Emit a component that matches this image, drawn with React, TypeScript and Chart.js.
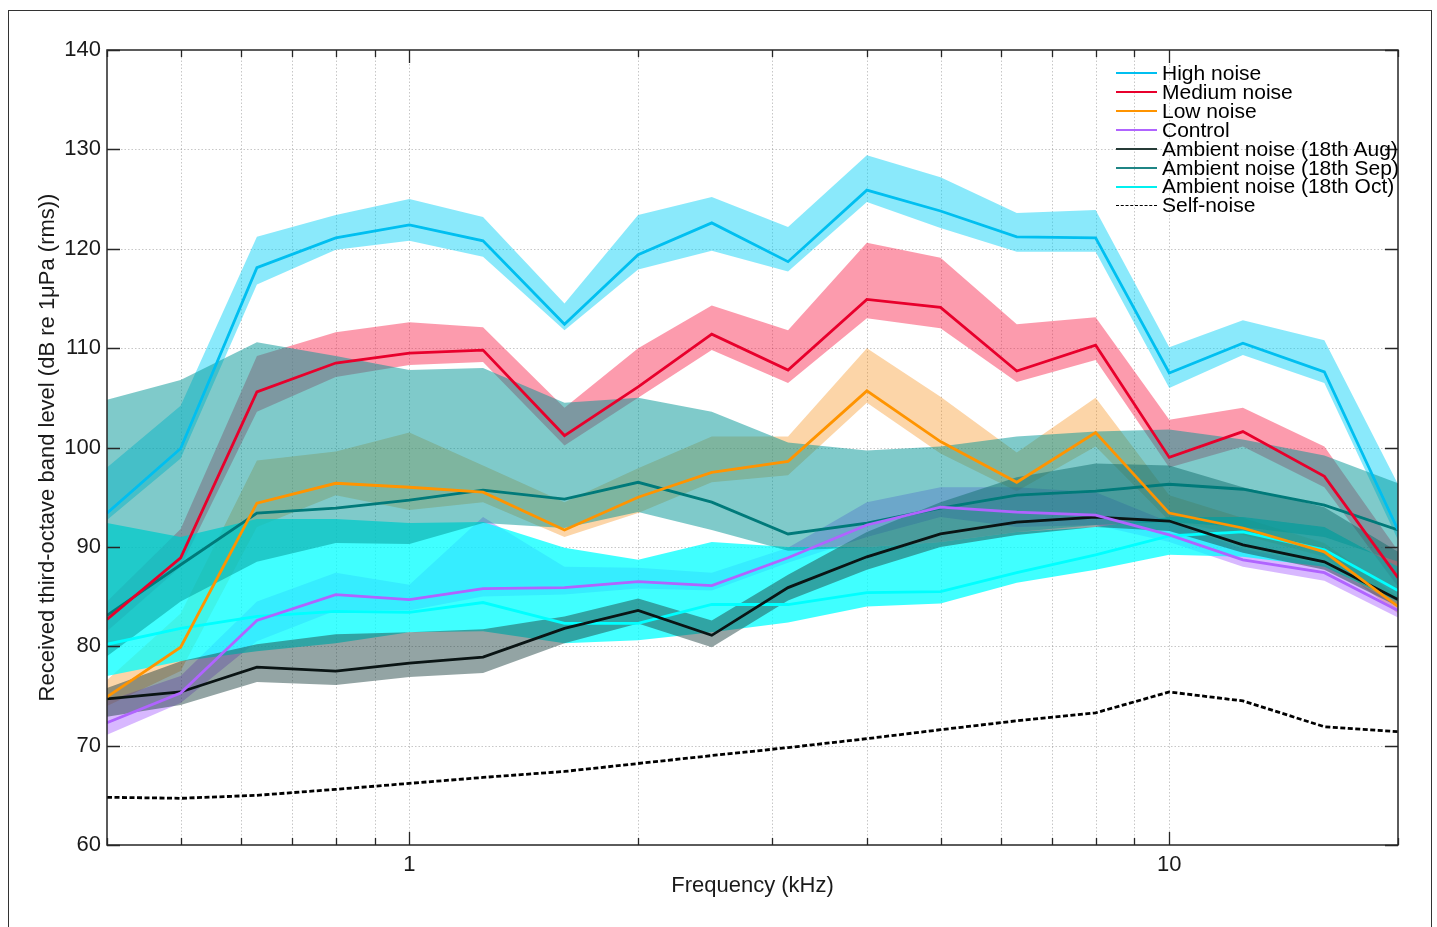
import React, { useEffect, useRef } from 'react';
import { Chart, registerables } from 'chart.js';

Chart.register(...registerables);

// Third-octave band centre frequencies (kHz)
const frequencies = [0.4, 0.5, 0.63, 0.8, 1, 1.25, 1.6, 2, 2.5, 3.15, 4, 5, 6.3, 8, 10, 12.5, 16, 20];

const highMean = [93.4, 99.9, 118.1, 121.1, 122.4, 120.8, 112.4, 119.4, 122.6, 118.7, 125.9, 123.8, 121.2, 121.1, 107.5, 110.5, 107.6, 91.7];
const highUpper = [98.0, 104.2, 121.2, 123.4, 125.0, 123.2, 114.5, 123.4, 125.2, 122.2, 129.4, 127.2, 123.6, 123.9, 110.1, 112.8, 110.8, 96.3];
const highLower = [92.7, 98.9, 116.4, 119.9, 120.8, 119.2, 111.8, 117.9, 119.8, 117.7, 124.7, 122.1, 119.7, 119.7, 106.0, 109.3, 106.5, 90.7];

const mediumMean = [82.7, 88.9, 105.6, 108.5, 109.5, 109.8, 101.2, 106.1, 111.4, 107.8, 114.9, 114.1, 107.7, 110.3, 99.0, 101.6, 97.1, 86.9];
const mediumUpper = [84.5, 91.8, 109.2, 111.6, 112.6, 112.1, 104.0, 110.0, 114.3, 111.8, 120.6, 119.1, 112.4, 113.1, 102.8, 104.0, 100.1, 89.6];
const mediumLower = [81.5, 88.0, 103.6, 107.1, 108.3, 108.6, 100.2, 105.0, 109.8, 106.5, 113.0, 112.0, 106.6, 108.8, 98.0, 100.1, 96.0, 86.0];

const lowMean = [74.9, 79.9, 94.4, 96.4, 96.0, 95.5, 91.7, 95.0, 97.5, 98.6, 105.7, 100.6, 96.5, 101.5, 93.4, 91.9, 89.5, 84.0];
const lowUpper = [76.6, 83.3, 98.7, 99.6, 101.5, 98.2, 94.5, 97.9, 101.1, 101.1, 110.0, 105.1, 99.5, 105.0, 95.2, 92.9, 90.4, 85.0];
const lowLower = [74.0, 77.5, 92.0, 95.2, 93.7, 94.5, 91.0, 93.4, 96.5, 97.2, 104.5, 99.4, 95.6, 100.1, 92.6, 91.2, 89.0, 83.3];

const controlMean = [72.3, 75.3, 82.6, 85.2, 84.7, 85.8, 85.9, 86.5, 86.1, 88.9, 92.2, 94.0, 93.5, 93.2, 91.2, 88.7, 87.4, 83.6];
const controlUpper = [74.5, 77.0, 84.5, 87.4, 86.2, 93.0, 88.0, 87.9, 87.4, 89.9, 94.5, 96.0, 96.0, 95.5, 92.5, 89.8, 88.2, 84.2];
const controlLower = [71.1, 74.3, 80.5, 83.6, 83.6, 85.0, 85.2, 85.8, 85.6, 88.4, 91.0, 93.0, 92.0, 92.2, 90.5, 88.0, 86.6, 82.9];

const augMean = [74.7, 75.4, 77.9, 77.5, 78.3, 78.9, 81.8, 83.6, 81.1, 85.9, 89.0, 91.3, 92.5, 93.0, 92.6, 90.2, 88.5, 84.7];
const augUpper = [75.8, 78.5, 80.2, 81.2, 81.4, 81.7, 83.0, 84.8, 82.6, 87.2, 91.5, 94.5, 97.0, 98.4, 98.2, 96.0, 94.0, 89.5];
const augLower = [72.9, 74.1, 76.4, 76.1, 76.9, 77.3, 80.3, 82.3, 79.9, 84.6, 87.7, 90.0, 91.2, 92.0, 91.6, 89.4, 87.7, 84.0];

const sepMean = [83.1, 88.2, 93.4, 93.9, 94.7, 95.7, 94.8, 96.5, 94.5, 91.3, 92.4, 93.9, 95.2, 95.6, 96.3, 95.8, 94.2, 91.7];
const sepUpper = [104.8, 106.8, 110.6, 109.2, 107.8, 108.0, 104.5, 105.0, 103.6, 100.5, 99.7, 100.1, 101.1, 101.6, 101.8, 100.8, 99.2, 96.4];
const sepLower = [79.0, 84.5, 88.5, 90.4, 90.3, 92.4, 91.9, 93.5, 91.7, 89.6, 90.0, 90.5, 91.5, 92.2, 92.5, 92.0, 91.0, 88.5];

const octMean = [80.2, 81.8, 83.0, 83.5, 83.4, 84.4, 82.3, 82.3, 84.2, 84.2, 85.4, 85.5, 87.4, 89.2, 91.1, 91.5, 89.7, 85.6];
const octUpper = [92.4, 91.0, 92.8, 92.8, 92.4, 92.5, 89.9, 88.7, 90.5, 90.0, 90.0, 90.5, 91.5, 92.0, 93.0, 93.0, 92.0, 88.0];
const octLower = [77.0, 78.5, 79.5, 80.3, 81.4, 81.5, 80.3, 80.6, 81.4, 82.4, 84.0, 84.3, 86.4, 87.7, 89.2, 89.0, 88.0, 84.5];

const selfNoise = [64.8, 64.7, 65.0, 65.6, 66.2, 66.8, 67.4, 68.2, 69.0, 69.8, 70.7, 71.6, 72.5, 73.3, 75.4, 74.5, 71.9, 71.4];

const xTickValues = [0.4, 0.5, 0.6, 0.7, 0.8, 0.9, 1, 2, 3, 4, 5, 6, 7, 8, 9, 10, 20];
const xLabelled = [1, 10];
const yTickValues = [60, 70, 80, 90, 100, 110, 120, 130, 140];

const seriesNames = [
  'High noise',
  'Medium noise',
  'Low noise',
  'Control',
  'Ambient noise (18th Aug)',
  'Ambient noise (18th Sep)',
  'Ambient noise (18th Oct)',
  'Self-noise',
];

const FONT = '"Liberation Sans", Arial, Helvetica, sans-serif';

const pts = (arr: number[]) => frequencies.map((f, i) => ({ x: f, y: arr[i] }));

function band(upper: number[], lower: number[], color: string, order: number) {
  return [
    {
      label: 'u',
      data: pts(upper),
      borderWidth: 0,
      borderColor: 'rgba(0,0,0,0)',
      pointRadius: 0,
      fill: false,
      order,
    },
    {
      label: 'l',
      data: pts(lower),
      borderWidth: 0,
      borderColor: 'rgba(0,0,0,0)',
      backgroundColor: color,
      pointRadius: 0,
      fill: '-1',
      order,
    },
  ];
}

function line(arr: number[], color: string, order: number, dash?: number[]) {
  return {
    label: 'line',
    data: pts(arr),
    borderColor: color,
    borderWidth: 2.8,
    borderDash: dash || [],
    pointRadius: 0,
    fill: false,
    order,
  };
}

const lineColors = ['#00bff0', '#e8002c', '#ff9400', '#b064ff', '#0a1414', '#007a7a', '#00ffff', '#000000'];
const legendColors = ['#00bff0', '#e8002c', '#ff9400', '#b064ff', '#263b37', '#1f8585', '#00f0f0', '#000000'];

const framePlugin = {
  id: 'matlabFrame',
  beforeDraw(chart: any) {
    const { ctx, chartArea: a, scales } = chart;
    const x = scales.x;
    const y = scales.y;
    ctx.save();
    ctx.strokeStyle = 'rgba(0,0,0,0.22)';
    ctx.lineWidth = 1;
    ctx.setLineDash([1.5, 2]);
    for (const t of xTickValues) {
      const px = Math.round(x.getPixelForValue(t)) + 0.5;
      if (px <= a.left + 1 || px >= a.right - 1) continue;
      ctx.beginPath();
      ctx.moveTo(px, a.top);
      ctx.lineTo(px, a.bottom);
      ctx.stroke();
    }
    for (const t of yTickValues) {
      const py = Math.round(y.getPixelForValue(t)) + 0.5;
      if (py <= a.top + 1 || py >= a.bottom - 1) continue;
      ctx.beginPath();
      ctx.moveTo(a.left, py);
      ctx.lineTo(a.right, py);
      ctx.stroke();
    }
    ctx.restore();
  },
  afterDraw(chart: any) {
    const { ctx, chartArea: a, scales } = chart;
    const x = scales.x;
    const y = scales.y;
    ctx.save();
    ctx.strokeStyle = '#262626';
    ctx.lineWidth = 1.5;
    ctx.setLineDash([]);
    ctx.strokeRect(a.left, a.top, a.right - a.left, a.bottom - a.top);
    ctx.lineWidth = 1.3;
    ctx.beginPath();
    for (const t of yTickValues) {
      const py = Math.round(y.getPixelForValue(t)) + 0.5;
      ctx.moveTo(a.left, py);
      ctx.lineTo(a.left + 13, py);
      ctx.moveTo(a.right, py);
      ctx.lineTo(a.right - 13, py);
    }
    for (const t of xTickValues) {
      const px = Math.round(x.getPixelForValue(t)) + 0.5;
      const len = xLabelled.includes(t) ? 13 : 7;
      ctx.moveTo(px, a.bottom);
      ctx.lineTo(px, a.bottom - len);
      ctx.moveTo(px, a.top);
      ctx.lineTo(px, a.top + len);
    }
    ctx.stroke();
    ctx.restore();
  },
};

export default function App() {
  const canvasRef = useRef<HTMLCanvasElement | null>(null);

  useEffect(() => {
    if (!canvasRef.current) return;
    const datasets: any[] = [
      ...band(highUpper, highLower, 'rgba(0,207,246,0.46)', 70),
      ...band(mediumUpper, mediumLower, 'rgba(248,24,66,0.43)', 60),
      ...band(lowUpper, lowLower, 'rgba(246,135,6,0.35)', 50),
      ...band(controlUpper, controlLower, 'rgba(144,52,255,0.35)', 40),
      ...band(octUpper, octLower, 'rgba(0,255,255,0.75)', 30),
      ...band(augUpper, augLower, 'rgba(30,64,64,0.48)', 20),
      ...band(sepUpper, sepLower, 'rgba(0,150,150,0.5)', 10),
      line(selfNoise, lineColors[7], 8, [5, 2.5]),
      line(octMean, lineColors[6], 7),
      line(sepMean, lineColors[5], 6),
      line(augMean, lineColors[4], 5),
      line(controlMean, lineColors[3], 4),
      line(lowMean, lineColors[2], 3),
      line(mediumMean, lineColors[1], 2),
      line(highMean, lineColors[0], 1),
    ];

    const chart = new Chart(canvasRef.current, {
      type: 'line',
      data: { datasets },
      plugins: [framePlugin],
      options: {
        animation: false,
        responsive: false,
        maintainAspectRatio: false,
        devicePixelRatio: 1,
        layout: { padding: { left: 0, right: 39, top: 50, bottom: 0 } },
        elements: { line: { tension: 0 } },
        plugins: {
          legend: { display: false },
          tooltip: { enabled: false },
          filler: { drawTime: 'beforeDatasetsDraw', propagate: false },
        },
        scales: {
          x: {
            type: 'logarithmic',
            min: 0.4,
            max: 20,
            grid: { display: false, drawTicks: false },
            border: { display: false },
            afterBuildTicks: (scale: any) => {
              scale.ticks = xTickValues.map((v) => ({ value: v }));
            },
            afterFit: (scale: any) => {
              scale.height = 82;
            },
            ticks: {
              autoSkip: false,
              maxRotation: 0,
              padding: 7,
              color: '#1a1a1a',
              font: { family: FONT, size: 22 },
              callback: (v: any) => (xLabelled.includes(Number(v)) ? String(v) : ''),
            },
            title: {
              display: true,
              text: 'Frequency (kHz)',
              color: '#1a1a1a',
              font: { family: FONT, size: 22 },
              padding: { top: 0, bottom: 28 },
            },
          },
          y: {
            type: 'linear',
            min: 60,
            max: 140,
            grid: { display: false, drawTicks: false },
            border: { display: false },
            afterBuildTicks: (scale: any) => {
              scale.ticks = yTickValues.map((v) => ({ value: v }));
            },
            afterFit: (scale: any) => {
              scale.width = 107;
            },
            ticks: {
              padding: 6,
              color: '#1a1a1a',
              font: { family: FONT, size: 22 },
            },
            title: {
              display: true,
              text: 'Received third-octave band level (dB re 1\u03bcPa (rms))',
              color: '#1a1a1a',
              font: { family: FONT, size: 22 },
              padding: { top: 35, bottom: 0 },
            },
          },
        },
      } as any,
    });
    return () => chart.destroy();
  }, []);

  const legendTop = 64;
  const rowH = 18.9;

  return (
    <div style={{ position: 'fixed', left: 0, top: 0, width: 1437, height: 927, background: '#fff', overflow: 'hidden' }}>
      <div
        style={{
          position: 'absolute',
          left: 8,
          top: 10,
          width: 1424,
          height: 940,
          border: '1px solid #333',
          boxSizing: 'border-box',
        }}
      />
      <canvas ref={canvasRef} width={1437} height={927} style={{ position: 'absolute', left: 0, top: 0, width: 1437, height: 927 }} />
      <div style={{ position: 'absolute', left: 1116, top: legendTop, fontFamily: FONT, fontSize: 21, color: '#000' }}>
        {seriesNames.map((name, i) => (
          <div key={name} style={{ position: 'absolute', left: 0, top: i * rowH, height: rowH, display: 'flex', alignItems: 'center', whiteSpace: 'nowrap' }}>
            <div
              style={{
                width: 41,
                height: 0,
                borderTop: i === 7 ? '1.6px dashed #000' : `2px solid ${legendColors[i]}`,
                marginRight: 5,
              }}
            />
            <span style={{ lineHeight: `${rowH}px` }}>{name}</span>
          </div>
        ))}
      </div>
    </div>
  );
}
